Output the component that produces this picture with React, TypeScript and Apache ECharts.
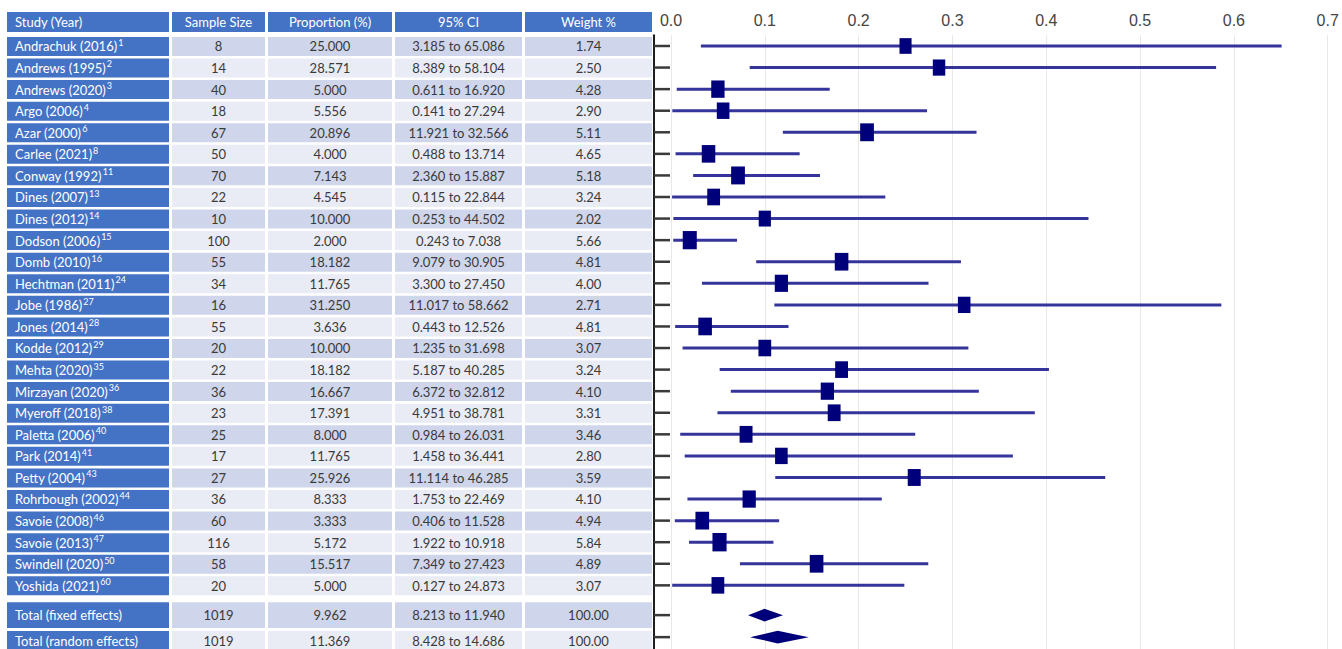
import React, { useEffect, useRef } from "react";
import * as echarts from "echarts";

// ---------- data ----------
const studies = [
  "Andrachuk (2016)", "Andrews (1995)", "Andrews (2020)", "Argo (2006)", "Azar (2000)",
  "Carlee (2021)", "Conway (1992)", "Dines (2007)", "Dines (2012)", "Dodson (2006)",
  "Domb (2010)", "Hechtman (2011)", "Jobe (1986)", "Jones (2014)", "Kodde (2012)",
  "Mehta (2020)", "Mirzayan (2020)", "Myeroff (2018)", "Paletta (2006)", "Park (2014)",
  "Petty (2004)", "Rohrbough (2002)", "Savoie (2008)", "Savoie (2013)", "Swindell (2020)",
  "Yoshida (2021)",
];
const refs = [1, 2, 3, 4, 6, 8, 11, 13, 14, 15, 16, 24, 27, 28, 29, 35, 36, 38, 40, 41, 43, 44, 46, 47, 50, 60];
const sampleSize = [8, 14, 40, 18, 67, 50, 70, 22, 10, 100, 55, 34, 16, 55, 20, 22, 36, 23, 25, 17, 27, 36, 60, 116, 58, 20];
const proportion = [25.0, 28.571, 5.0, 5.556, 20.896, 4.0, 7.143, 4.545, 10.0, 2.0, 18.182, 11.765, 31.25, 3.636, 10.0, 18.182, 16.667, 17.391, 8.0, 11.765, 25.926, 8.333, 3.333, 5.172, 15.517, 5.0];
const ciLow = [3.185, 8.389, 0.611, 0.141, 11.921, 0.488, 2.36, 0.115, 0.253, 0.243, 9.079, 3.3, 11.017, 0.443, 1.235, 5.187, 6.372, 4.951, 0.984, 1.458, 11.114, 1.753, 0.406, 1.922, 7.349, 0.127];
const ciHigh = [65.086, 58.104, 16.92, 27.294, 32.566, 13.714, 15.887, 22.844, 44.502, 7.038, 30.905, 27.45, 58.662, 12.526, 31.698, 40.285, 32.812, 38.781, 26.031, 36.441, 46.285, 22.469, 11.528, 10.918, 27.423, 24.873];
const weight = [1.74, 2.5, 4.28, 2.9, 5.11, 4.65, 5.18, 3.24, 2.02, 5.66, 4.81, 4.0, 2.71, 4.81, 3.07, 3.24, 4.1, 3.31, 3.46, 2.8, 3.59, 4.1, 4.94, 5.84, 4.89, 3.07];

const totalLabels = ["Total (fixed effects)", "Total (random effects)"];
const totalN = [1019, 1019];
const totalProp = [9.962, 11.369];
const totalLow = [8.213, 8.428];
const totalHigh = [11.94, 14.686];
const totalWeight = [100.0, 100.0];

const headers = ["Study (Year)", "Sample Size", "Proportion (%)", "95% CI", "Weight %"];
const xTicks = [0, 0.1, 0.2, 0.3, 0.4, 0.5, 0.6, 0.7];

// ---------- layout ----------
const W = 1342;
const H = 649;
const GRID_TOP = 35.2;
const Y_MIN = -0.5;
const Y_MAX = 27.95;
const colLeft = [7, 172, 268, 395, 525];
const colRight = [169, 265, 392, 522, 652];
const BLUE = "#4472C4";
const DARK = "#CFD5EA";
const LIGHT = "#E9EBF5";
const TABLE_FONT = "Lato, 'Open Sans', sans-serif";
const FONT_SIZE = 13;
const FOREST_TOTAL_POS = [26.38, 27.4];

type Row = {
  band: [number, number];
  center: number;
  cells: string[];
  header: boolean;
  dark: boolean;
};

function buildRows(): Row[] {
  const rows: Row[] = [];
  rows.push({ band: [-1.575, -0.648], center: -1.11, cells: headers, header: true, dark: false });
  studies.forEach((s, i) => {
    rows.push({
      band: [i - 0.42, i + 0.46],
      center: i + 0.02,
      cells: [
        `{n|${s}}{s|${refs[i]}}`,
        String(sampleSize[i]),
        proportion[i].toFixed(3),
        `${ciLow[i].toFixed(3)} to ${ciHigh[i].toFixed(3)}`,
        weight[i].toFixed(2),
      ],
      header: false,
      dark: i % 2 === 0,
    });
  });
  const bands: [number, number][] = [[25.78, 26.98], [27.12, 28.4]];
  const centers = [26.37, 27.56];
  totalLabels.forEach((t, k) => {
    rows.push({
      band: bands[k],
      center: centers[k],
      cells: [
        `{n|${t}}`,
        String(totalN[k]),
        totalProp[k].toFixed(3),
        `${totalLow[k].toFixed(3)} to ${totalHigh[k].toFixed(3)}`,
        totalWeight[k].toFixed(2),
      ],
      header: false,
      dark: (studies.length + k) % 2 === 0,
    });
  });
  return rows;
}

export default function App() {
  const ref = useRef<HTMLDivElement>(null);

  useEffect(() => {
    if (!ref.current) return;
    const chart = echarts.init(ref.current, null, { renderer: "svg" });
    const rows = buildRows();

    const tableData = rows.map((r, idx) => [0, r.center, idx]);
    const studyData = studies.map((_, i) => [proportion[i] / 100, ciLow[i] / 100, ciHigh[i] / 100, i, weight[i]]);
    const totalData = totalLabels.map((_, k) => [totalProp[k] / 100, totalLow[k] / 100, totalHigh[k] / 100, FOREST_TOTAL_POS[k]]);

    const option: any = {
      animation: false,
      backgroundColor: "#ffffff",
      grid: [
        { left: 0, right: 0, top: GRID_TOP, bottom: 0 },
        { left: 671, right: W - 1327.7, top: GRID_TOP, bottom: 0 },
      ],
      xAxis: [
        { gridIndex: 0, type: "value", min: 0, max: W, show: false },
        {
          gridIndex: 1,
          type: "value",
          position: "top",
          min: 0,
          max: 0.7,
          interval: 0.1,
          axisLine: { show: false },
          axisTick: { show: false },
          axisLabel: {
            show: true,
            margin: 7,
            color: "#444444",
            fontSize: 16,
            fontFamily: "'Liberation Sans', Arial, sans-serif",
            formatter: (v: number) => (xTicks.some((t) => Math.abs(t - v) < 1e-9) ? v.toFixed(1) : ""),
          },
          splitLine: { show: true, lineStyle: { color: "#e8e8e8", width: 1 } },
        },
      ],
      yAxis: [
        { gridIndex: 0, type: "value", inverse: true, min: Y_MIN, max: Y_MAX, show: false },
        {
          gridIndex: 1,
          type: "value",
          inverse: true,
          min: Y_MIN,
          max: Y_MAX,
          offset: 17,
          axisLine: { show: true, onZero: false, lineStyle: { color: "#1e1e1e", width: 2 } },
          axisTick: { show: false },
          axisLabel: { show: false },
          splitLine: { show: false },
        },
      ],
      series: [
        {
          type: "custom",
          xAxisIndex: 0,
          yAxisIndex: 0,
          clip: false,
          encode: { x: 0, y: 1 },
          data: tableData,
          renderItem: (params: any, api: any) => {
            const r = rows[api.value(2)];
            const top = api.coord([0, r.band[0]])[1];
            const bottom = api.coord([0, r.band[1]])[1];
            const cy = api.coord([0, r.center])[1];
            const children: any[] = [];
            for (let c = 0; c < 5; c++) {
              const x0 = api.coord([colLeft[c], 0])[0];
              const x1 = api.coord([colRight[c], 0])[0];
              const fill = r.header || c === 0 ? BLUE : r.dark ? DARK : LIGHT;
              children.push({
                type: "rect",
                shape: { x: x0, y: top, width: x1 - x0, height: bottom - top },
                style: { fill },
              });
              const white = r.header || c === 0;
              children.push({
                type: "text",
                style: {
                  text: r.cells[c],
                  x: c === 0 ? x0 + 8 : (x0 + x1) / 2,
                  y: cy,
                  align: c === 0 ? "left" : "center",
                  verticalAlign: "middle",
                  fill: white ? "#ffffff" : "#3a3a3a",
                  fontSize: FONT_SIZE,
                  fontFamily: TABLE_FONT,
                  rich:
                    c === 0 && !r.header
                      ? {
                          n: { fontSize: FONT_SIZE, fontFamily: TABLE_FONT, fill: "#ffffff", lineHeight: 17 },
                          s: {
                            fontSize: 9,
                            fontFamily: TABLE_FONT,
                            fill: "#ffffff",
                            verticalAlign: "top",
                            lineHeight: 12,
                            padding: [0, 0, 0, 1],
                          },
                        }
                      : undefined,
                },
              });
            }
            return { type: "group", children };
          },
          z: 1,
        },
        {
          type: "custom",
          xAxisIndex: 1,
          yAxisIndex: 1,
          clip: false,
          encode: { x: [0, 1, 2], y: 3 },
          data: studyData,
          renderItem: (params: any, api: any) => {
            const p = api.value(0);
            const lo = api.value(1);
            const hi = api.value(2);
            const y = api.value(3);
            const wt = api.value(4);
            const c0 = api.coord([0, y]);
            const cl = api.coord([lo, y]);
            const ch = api.coord([hi, y]);
            const cp = api.coord([p, y]);
            const w = 11.2 + 0.5 * wt;
            const h = w * 1.3;
            return {
              type: "group",
              children: [
                { type: "line", shape: { x1: c0[0] - 17, y1: c0[1], x2: c0[0] - 1, y2: c0[1] }, style: { stroke: "#3a3a3a", lineWidth: 2.5 } },
                { type: "line", shape: { x1: cl[0], y1: cl[1], x2: ch[0], y2: ch[1] }, style: { stroke: "#34349a", lineWidth: 3 } },
                { type: "rect", shape: { x: cp[0] - w / 2, y: cp[1] - h / 2, width: w, height: h }, style: { fill: "#00007a" } },
              ],
            };
          },
          z: 3,
        },
        {
          type: "custom",
          xAxisIndex: 1,
          yAxisIndex: 1,
          clip: false,
          encode: { x: [0, 1, 2], y: 3 },
          data: totalData,
          renderItem: (params: any, api: any) => {
            const p = api.value(0);
            const lo = api.value(1);
            const hi = api.value(2);
            const y = api.value(3);
            const c0 = api.coord([0, y]);
            const cl = api.coord([lo, y]);
            const ch = api.coord([hi, y]);
            const cp = api.coord([p, y]);
            const hh = 6.3;
            return {
              type: "group",
              children: [
                { type: "line", shape: { x1: c0[0] - 17, y1: c0[1], x2: c0[0] - 1, y2: c0[1] }, style: { stroke: "#3a3a3a", lineWidth: 2.5 } },
                {
                  type: "polygon",
                  shape: { points: [[cl[0], cl[1]], [cp[0], cp[1] - hh], [ch[0], ch[1]], [cp[0], cp[1] + hh]] },
                  style: { fill: "#00007a" },
                },
              ],
            };
          },
          z: 3,
        },
      ],
    };

    chart.setOption(option);
    return () => chart.dispose();
  }, []);

  return (
    <div
      ref={ref}
      style={{ position: "fixed", left: 0, top: 0, width: W, height: H, background: "#ffffff" }}
    />
  );
}
